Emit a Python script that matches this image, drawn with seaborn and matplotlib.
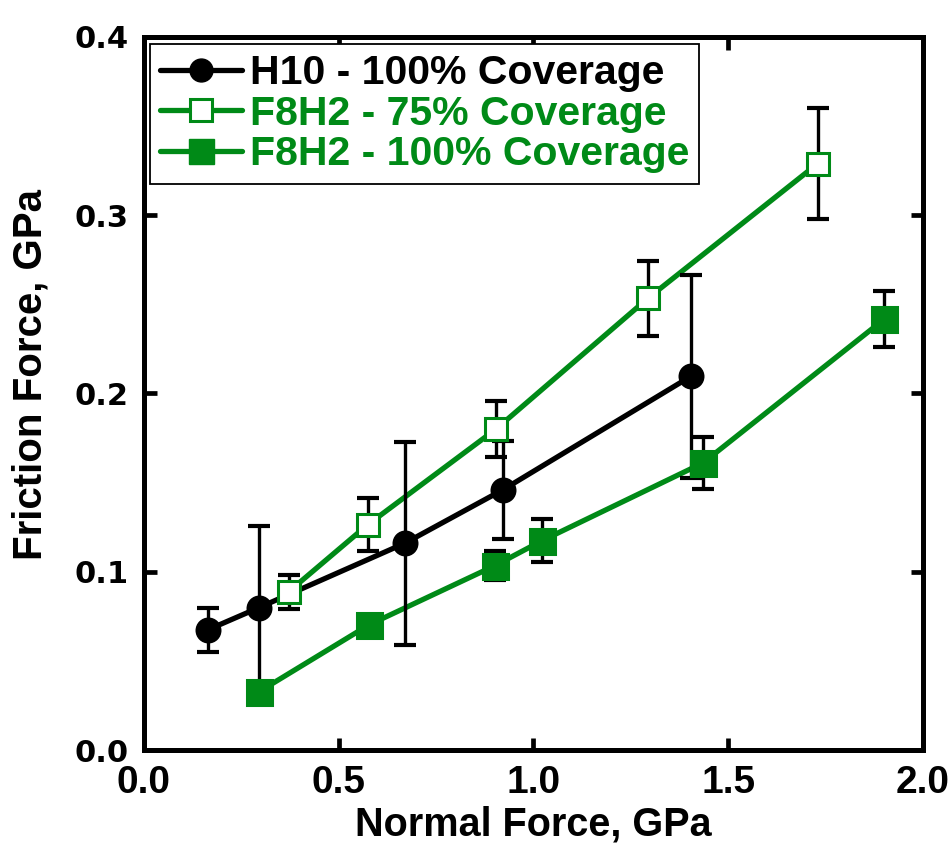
import matplotlib
matplotlib.use("Agg")
import matplotlib.pyplot as plt
import seaborn as sns
import pandas as pd
from matplotlib.lines import Line2D

# ---- data ----
h10_x = [0.164, 0.295, 0.670, 0.922, 1.404]
h10_y = [0.0674, 0.0798, 0.116, 0.146, 0.2096]
h10_err = [0.0122, 0.046, 0.057, 0.0275, 0.057]

f75_x = [0.372, 0.575, 0.904, 1.294, 1.730]
f75_y = [0.0888, 0.1264, 0.180, 0.2534, 0.329]
f75_err = [0.0095, 0.015, 0.0157, 0.021, 0.031]

f100_x = [0.295, 0.578, 0.901, 1.022, 1.435, 1.900]
f100_y = [0.0326, 0.0702, 0.1034, 0.1174, 0.161, 0.2416]
f100_err = [0.0, 0.0, 0.008, 0.012, 0.0145, 0.0157]

labels = ["H10 - 100% Coverage", "F8H2 - 75% Coverage", "F8H2 - 100% Coverage"]
x_ticks = [0.0, 0.5, 1.0, 1.5, 2.0]
y_ticks = [0.0, 0.1, 0.2, 0.3, 0.4]
x_label = "Normal Force, GPa"
y_label = "Friction Force, GPa"

GREEN = "#008A17"
BLACK = "#000000"

sns.set_theme(style="ticks")
plt.rcParams["font.family"] = ["Liberation Sans", "DejaVu Sans"]

fig = plt.figure(figsize=(9.52, 8.52), dpi=100)
ax = fig.add_axes([0.151, 0.1197, 0.9695 - 0.151, 0.9566 - 0.1197])

series = [
    (h10_x, h10_y, h10_err, BLACK, "o", BLACK, 16.5),
    (f75_x, f75_y, f75_err, GREEN, "s", "white", 16.5),
    (f100_x, f100_y, f100_err, GREEN, "s", GREEN, 18),
]

for xs, ys, es, col, mk, fc, ms in series:
    df = pd.DataFrame({"x": xs, "y": ys})
    sns.lineplot(data=df, x="x", y="y", ax=ax, color=col, lw=3.8,
                 sort=False, zorder=1, legend=False)
    ax.errorbar(xs, ys, yerr=es, fmt="none", ecolor="black", elinewidth=2.4,
                capsize=8, capthick=3, zorder=2)
    sns.lineplot(data=df, x="x", y="y", ax=ax, color=col, lw=0, marker=mk,
                 markersize=ms, markerfacecolor=fc, markeredgecolor=col,
                 markeredgewidth=2.2, sort=False, zorder=3, legend=False)

ax.set_xlim(0, 2.0)
ax.set_ylim(0, 0.4)
ax.set_xticks(x_ticks)
ax.set_yticks(y_ticks)
ax.set_xticklabels([f"{v:.1f}" for v in x_ticks], fontsize=28, fontweight="bold")
ax.set_yticklabels([f"{v:.1f}" for v in y_ticks], fontsize=22, fontweight="bold",
                   family=["DejaVu Sans"])
ax.tick_params(direction="in", length=9, width=3.4, top=True, right=True,
               colors="black")
ax.tick_params(axis="x", pad=11)
ax.tick_params(axis="y", pad=11)
for s in ax.spines.values():
    s.set_linewidth(3.6)
    s.set_color("black")

ax.set_xlabel(x_label, fontsize=28.5, fontweight="bold", labelpad=3, color="black")
ax.set_ylabel(y_label, fontsize=29, fontweight="bold", color="black")
ax.yaxis.set_label_coords(-0.121, 0.526)

handles = [
    Line2D([], [], color=BLACK, lw=3.8, marker="o", markersize=16.5,
           markerfacecolor=BLACK, markeredgecolor=BLACK),
    Line2D([], [], color=GREEN, lw=3.8, marker="s", markersize=16.5,
           markerfacecolor="white", markeredgecolor=GREEN, markeredgewidth=2.2),
    Line2D([], [], color=GREEN, lw=3.8, marker="s", markersize=18,
           markerfacecolor=GREEN, markeredgecolor=GREEN),
]
leg = ax.legend(handles, labels, loc="upper left", bbox_to_anchor=(0.008, 0.99),
                prop={"weight": "bold", "size": 29.5},
                frameon=True, fancybox=False, edgecolor="black", framealpha=1,
                handlelength=2.0, handletextpad=0.18, labelspacing=0.06,
                borderpad=0.25, borderaxespad=0.0)
leg.get_frame().set_linewidth(1.3)
leg.set_zorder(5)
for t, c in zip(leg.get_texts(), [BLACK, GREEN, GREEN]):
    t.set_color(c)

fig.savefig("out.png", dpi=100)
